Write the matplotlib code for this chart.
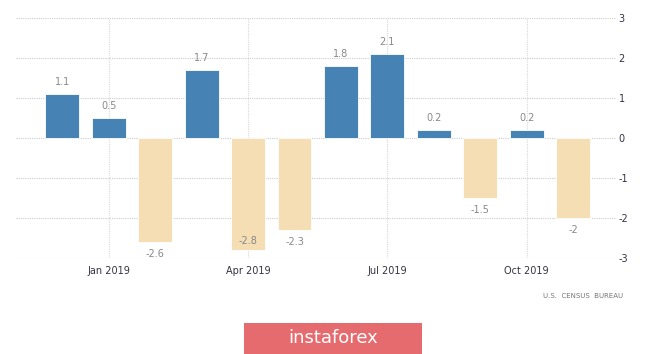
import matplotlib.pyplot as plt
import numpy as np
from matplotlib.patches import FancyBboxPatch

# monthly change, Dec 2018 .. Nov 2019
months = ['Dec 2018', 'Jan 2019', 'Feb 2019', 'Mar 2019', 'Apr 2019', 'May 2019',
          'Jun 2019', 'Jul 2019', 'Aug 2019', 'Sep 2019', 'Oct 2019', 'Nov 2019']
values = [1.1, 0.5, -2.6, 1.7, -2.8, -2.3, 1.8, 2.1, 0.2, -1.5, 0.2, -2.0]
labels = ['1.1', '0.5', '-2.6', '1.7', '-2.8', '-2.3', '1.8', '2.1', '0.2', '-1.5', '0.2', '-2']
tick_idx = [1, 4, 7, 10]
tick_labels = ['Jan 2019', 'Apr 2019', 'Jul 2019', 'Oct 2019']
yticks = [-3, -2, -1, 0, 1, 2, 3]

blue = '#4682b4'
beige = '#f5deb3'

fig = plt.figure(figsize=(6.65, 3.54), dpi=100)
ax = fig.add_axes([0.024, 0.271, 0.902, 0.678])

x = np.arange(len(values))
colors = [blue if v >= 0 else beige for v in values]
ax.bar(x, values, width=0.73, color=colors, edgecolor='white', linewidth=0.6, zorder=3)

for xi, v, lab in zip(x, values, labels):
    if v >= 0:
        ax.text(xi, v + 0.17, lab, ha='center', va='bottom', fontsize=7, color='#888888', zorder=4)
    else:
        ypos = v - 0.18
        if ypos - 0.15 < -3:
            # no room below the bar: put label inside its end
            ypos = v + 0.35
        ax.text(xi, ypos, lab, ha='center', va='top', fontsize=7,
                color='#888888', zorder=4)

ax.set_xlim(-1.0, 11.92)
ax.set_ylim(-3, 3)
ax.set_yticks(yticks)
ax.set_yticklabels([str(t) for t in yticks])
ax.yaxis.tick_right()
ax.set_xticks(tick_idx)
ax.set_xticklabels(tick_labels)
ax.tick_params(axis='both', length=0, labelsize=7, colors='#333340')
ax.tick_params(axis='y', pad=2)
ax.tick_params(axis='x', pad=6)

ax.grid(True, axis='y', linestyle=(0, (1, 1)), color='#cccccc', linewidth=0.8, zorder=0)
ax.grid(True, axis='x', linestyle=(0, (1, 1)), color='#d8d8d8', linewidth=0.8, zorder=0)
for s in ax.spines.values():
    s.set_visible(False)

fig.text(0.937, 0.163, 'U.S.  CENSUS  BUREAU', ha='right', va='center',
         fontsize=5, color='#777777')

# watermark button
btn = FancyBboxPatch((244 / 665, 0.0), 178 / 665, 31 / 354,
                     boxstyle='square,pad=0', transform=fig.transFigure,
                     facecolor='#e56b6f', edgecolor='none')
fig.patches.append(btn)
fig.text(333 / 665, 16 / 354, 'instaforex', ha='center', va='center',
         fontsize=13, color='white')

fig.savefig('out.png', dpi=100)
